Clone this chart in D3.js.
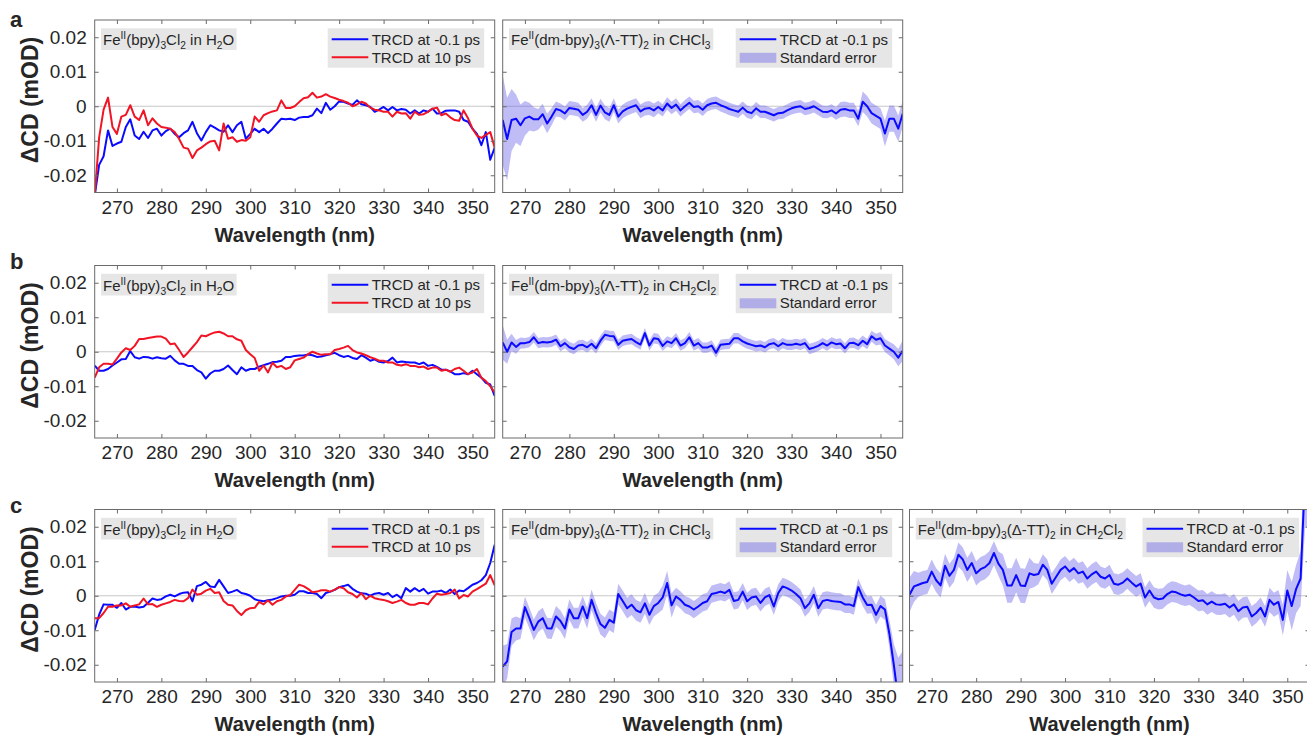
<!DOCTYPE html>
<html>
<head>
<meta charset="utf-8">
<script src="https://cdn.jsdelivr.net/npm/d3@7"></script>
<style>
  body { margin: 0; background: #fff; }
  text { font-family: "Liberation Sans", Arial, sans-serif; fill: #262626; }
</style>
</head>
<body>
<svg id="fig" width="1307" height="735"></svg>
<script>
// Wavelength grid (nm)
const wavelengths = d3.range(265, 356);

// ΔCD traces, in units of 1e-3 mOD, one value per wavelength (265–355 nm)
const a1Early = [
  -26, -17, -14.5, -7, -11.5, -10.8, -10.3, -6, -3.8, -8.5,
  -9.5, -7.4, -9.2, -7, -6.5, -8.5, -7.2, -6.5, -8, -9,
  -7.8, -7, -4.5, -7.8, -9.9, -7.5, -5.5, -6.2, -7, -7.4,
  -5.5, -7.5, -5.5, -4.5, -9.4, -8, -6.5, -7.5, -6.5, -7.8,
  -6.5, -5, -3.6, -3.8, -3.6, -4, -3.3, -3.1, -3.1, -2.6,
  -0.7, -2, 1, -1, 0, 1.4, 1.3, 0.8, 0.4, 1.7,
  0.6, 0.3, -0.2, -1.6, -1, -0.2, -1.2, -0.2, -1.2, -0.8,
  -1, -2.1, -1.2, -2.1, -1.2, -1.6, -0.7, -2.1, -2, -1.3,
  -1.2, -1.2, -1.6, -4, -4.5, -6.5, -8, -11.3, -7.5, -15.5,
  -12
];
const a1Late = [
  -26, -9, -1, 2.5, -6, -8, -3, -2.5, 0.3, -3,
  -4, -1.2, -5.5, -3.5, -5, -6, -6.2, -6.5, -7.5, -9.5,
  -12, -12.3, -15, -12.8, -12, -11, -10.2, -10, -12.8, -5,
  -9.4, -9, -10.3, -9.8, -10, -9, -3, -4.5, -2.6, -2,
  -1.5, -1.2, 1.7, -0.5, -0.5, 0, 1.2, 2.3, 2.6, 3.9,
  2.5, 2.8, 3.5, 2.8, 2.4, 1.9, 1.5, 1, 0, 0.5,
  1.3, 0.8, -0.4, -1, -1.2, -1.6, -1.6, -3, -1.6, -2.1,
  -2, -3.6, -1.6, -2.5, -2.3, -1.6, -0.7, -0.4, -2.6, -2.1,
  -3.2, -4, -4.2, -1.2, -3.5, -6.5, -8.5, -9.2, -8.3, -7.5,
  -12
];
const a2Early = [
  -4, -9.5, -4, -3.6, -5.5, -3.5, -3, -3.8, -3.8, -2.3,
  -5, -3, -0.8, -1.2, -2.1, -0.5, -0.7, -1, -2.5, -1.6,
  0.3, -2.5, 0.2, -1.8, -2.5, 0.3, -3, -1.5, -0.7, -0.2,
  0.3, -1.5, -0.7, -0.5, -1.2, -0.2, -1.2, 0.8, -0.5, 0.5,
  -1.2, 0, 1, -0.2, 0, -1, 0.3, 0.8, 1, 0.3,
  -0.2, -0.8, -1.2, -1.6, -0.4, -1.6, -2, -0.6, -1.6, -1.6,
  -2.1, -2.6, -2, -1.9, -1.2, -0.6, -0.2, 0, -0.8, -0.5,
  0, -0.8, -1.6, -1.7, -1.2, -2.1, -1, -0.8, -1.2, -1.2,
  -3.6, 1.3, 0, -2, -2.8, -3.6, -7.9, -3.6, -3.6, -6.5,
  -2.2
];
const a2Err = [
  13, 12, 9, 7, 6, 5, 4, 3.5, 3, 3,
  2.8, 2.5, 2.2, 2, 2, 2, 2, 2, 2, 2,
  2, 2, 2, 2, 2, 2, 2, 2, 2, 2,
  2, 2, 2, 2, 2, 1.8, 1.8, 1.8, 1.8, 1.8,
  1.8, 1.8, 1.8, 1.8, 1.8, 1.8, 1.8, 1.8, 1.8, 1.8,
  1.8, 1.8, 1.8, 1.8, 1.8, 1.8, 1.8, 1.8, 1.8, 1.8,
  1.8, 1.8, 1.8, 1.8, 1.8, 1.8, 1.8, 1.8, 1.8, 1.8,
  1.8, 1.8, 1.8, 1.8, 1.8, 1.8, 2.2, 2.2, 2.2, 2.2,
  2.2, 3, 3, 3, 3, 3, 3.8, 3.8, 3.8, 3.8,
  3.8
];
const b1Early = [
  -4, -5.5, -5.5, -5, -4, -3.1, -2.2, -2.1, 0.2, -1.6,
  -2, -1.5, -1.6, -2, -1.6, -1.9, -2, -1.2, -2.5, -3.5,
  -3.5, -4.1, -4.1, -5.3, -6, -7.8, -6.3, -5.5, -5.5, -5,
  -4, -5.3, -6.5, -4.5, -5.5, -5, -5, -4.3, -3.9, -3.5,
  -3, -2.9, -2.6, -1.5, -1.5, -1.2, -1.1, -1.1, -0.8, -1,
  -1.5, -1.4, -1, -0.7, -0.3, -1, -1.5, -1.2, -1.8, -2.1,
  -1, -1.7, -2.6, -2.2, -2.9, -3.1, -2.7, -1.7, -3.1, -2.8,
  -3, -3.1, -3.1, -3.6, -3.1, -4.1, -3.8, -4.4, -5.2, -5.2,
  -5.7, -6.5, -6.5, -6.2, -6.5, -5.5, -6.5, -7.5, -9, -9.5,
  -12.8
];
const b1Late = [
  -7.5, -4.5, -3.5, -3.5, -3.7, -2, -0.2, 1, 0.5, 1.7,
  3.7, 3.7, 4, 4.2, 4.4, 4.4, 3.8, 2.2, 2.4, 0.5,
  -1.5, -0.2, 1.3, 2.8, 4.7, 4.5, 5.1, 5.6, 5.8, 5.3,
  4.5, 4.5, 3.6, 3.2, 0.5, -0.7, -1.8, -5.5, -4, -6,
  -3.2, -4.5, -4.1, -5, -4.5, -2.5, -2.1, -1.7, -0.7, 0,
  -0.5, -0.9, -0.7, -0.7, 0.5, 0.8, 1.2, 1.7, 0.5, -0.2,
  -0.5, -1, -1.6, -2, -2.6, -2.6, -3.1, -3.1, -3.8, -4,
  -3.6, -4.1, -4.1, -4.5, -4.3, -5, -4.6, -4.6, -5.5, -5.2,
  -5.8, -5, -4.6, -5.5, -6.5, -6, -5, -7.5, -8.5, -10,
  -11.8
];
const b2Early = [
  2.7, 0, 2.7, 1.4, 2.5, 2.5, 2.8, 4.2, 2.5, 2.8,
  2.7, 2.9, 3.5, 1.6, 2.5, 1.3, 0.8, 1.8, 2, 1.3,
  2.3, 1, 3.2, 4.9, 4.6, 4.5, 2, 3.2, 3.5, 3.7,
  2.8, 2.1, 5.4, 1.8, 3.9, 3.7, 1.7, 3, 2.5, 3.9,
  1.8, 2.5, 4.2, 1.8, 2.5, 1.2, 1.2, 1.8, -0.3, 2,
  2.2, 2.3, 3.9, 3.9, 3, 2.4, 2, 1.6, 1.8, 1.3,
  2.2, 2.5, 1.6, 2.5, 2, 2, 2.3, 2, 2.5, 0.8,
  1.2, 1.7, 2.5, 1.8, 2.7, 2.2, 2.4, 1, 2.5, 2.6,
  1.9, 3.2, 2.2, 4.5, 3.5, 3.9, 1.8, 0.9, 0, -1.7,
  0.3
];
const b2Err = [
  5, 3.5, 2.5, 2, 1.6, 1.5, 1.5, 1.5, 1.5, 1.5,
  1.5, 1.5, 1.5, 1.5, 1.5, 1.5, 1.5, 1.5, 1.5, 1.5,
  1.5, 1.5, 1.5, 1.5, 1.5, 1.5, 1.5, 1.5, 1.5, 1.5,
  1.5, 1.5, 1.5, 1.5, 1.5, 1.5, 1.5, 1.5, 1.5, 1.5,
  1.5, 1.5, 1.5, 1.5, 1.5, 1.5, 1.5, 1.5, 1.5, 1.5,
  1.5, 1.5, 1.5, 1.5, 1.5, 1.5, 1.5, 1.5, 1.5, 1.5,
  1.5, 1.5, 1.5, 1.5, 1.5, 1.5, 1.5, 1.5, 1.5, 1.5,
  1.5, 1.5, 1.5, 1.5, 1.5, 1.5, 1.5, 1.5, 1.5, 1.5,
  1.5, 1.5, 1.5, 1.6, 1.7, 1.8, 1.9, 2, 2.2, 2.5,
  3
];
const c1Early = [
  -9.9, -5.5, -2.5, -2.6, -2.6, -3.5, -2.1, -4, -3.2, -3.1,
  -3.4, -3.2, -2, -0.8, -1.2, -1, -0.2, 0.3, -0.2, 0.5,
  0.9, 1, -1.6, 2.8, 3.2, 4, 2.7, 2.5, 4.6, 2.7,
  0.8, 1.2, 1.7, 0.8, 0.5, 0, -1, -1.4, -1.6, -1.3,
  -1.1, -0.7, -0.2, 0, 0, 0.3, 1.3, 1.3, 0.8, 0.8,
  0.5, -0.7, 0.8, 1.2, 1.7, 2.5, 2.8, 3.2, 2, 1.2,
  0.7, 0.6, 0, 0.6, 0.8, 0.3, 0.8, -0.4, 0.3, -0.7,
  2.2, 1.2, 2.2, 1.3, 2, 0.6, 1.2, 1.2, 1.5, 0.8,
  1.8, 0.5, 1.5, 1.3, 2.2, 3.2, 3.7, 4.5, 6, 9.5,
  14.8
];
const c1Late = [
  -6.5, -6.5, -5, -3.2, -3.2, -2.8, -2.8, -2.2, -3.2, -2.8,
  -2.5, -0.8, -2.5, -2.4, -3.2, -2.6, -2.2, -1.8, -1.2, -1.5,
  -1.6, -0.7, 1.8, 0.3, 0.6, 1.5, 2, 0.8, 1, -1.5,
  -2.6, -2.8, -4.4, -5.6, -4.2, -3.6, -3.5, -1.8, -2.5, -1.3,
  -2.6, -1.6, -1.2, -0.2, 0.2, 1.7, 3.2, 2.8, 2, 1,
  1.2, 1.6, 1.6, 1.2, 1.8, 2.5, 2.2, 1, 0.5, -0.5,
  0.8, -1, 0, -0.7, -1, -1.2, -1.6, -2.1, -1.7, -1.2,
  -2.1, -2.6, -2.6, -2.1, -2.1, -2.5, -0.8, 0.6, 0.3, 0.5,
  0.8, 1.8, -0.8, 0.2, -0.2, 1.2, 1.9, 2.7, 3.5, 6,
  3
];
const c2Early = [
  -20.5, -19, -10.5, -9.5, -9.5, -3.3, -6.5, -9.9, -7.5, -6.5,
  -9.4, -9.5, -6, -7.3, -9.5, -4, -6.5, -6.5, -3.1, -6.5,
  -1.2, -5, -8.2, -9.3, -7, -7.8, 0.5, -1.5, -3.6, -2.6,
  -4.2, -4.8, -2.2, -5.5, -3, -2.1, -0.5, 3.7, -2.8, -0.2,
  -1.2, -2.6, -3.1, -4, -3.1, -2.1, -1.6, 0.5, 0.8, 1.2,
  0.8, 1.7, -1.5, -1.2, 1.2, -1.6, -0.5, -0.2, -2.1, -0.5,
  0.2, -3.1, 0.8, 2.7, 2.2, 1.5, 0.5, -0.7, -3.6, -2.2,
  0.3, -3.6, -1.5, -1.2, -1.5, -1.7, -1.8, -2.5, -2.5, -3,
  2.5, -0.5, -2.7, -2.6, -5.5, -3, -4, -11, -20, -30,
  -36
];
const c2Err = [
  6, 5, 4, 3.5, 3, 3, 3, 3, 3, 3,
  3, 3, 3, 3, 3, 3, 3, 3, 3, 3,
  3, 3, 3, 3, 3, 3, 3, 3, 3, 3,
  3, 3, 3, 3, 3, 3, 3.5, 3.5, 3.5, 2.5,
  2.5, 2.5, 2.5, 2.5, 2.5, 2.5, 2.5, 2.5, 2.5, 2.5,
  2.5, 2.5, 2.5, 2.5, 2.5, 2.5, 2.5, 2.5, 2.5, 2.5,
  2.5, 2.5, 2.5, 2.5, 2.5, 2.5, 2.5, 2.5, 2.5, 2.5,
  2.5, 2.5, 2.5, 2.5, 2.5, 2.5, 2.5, 2.5, 2.5, 2.5,
  2.5, 2.5, 2.5, 2.5, 2.8, 3, 3, 4, 6, 12,
  20
];
const c3Early = [
  0.3, 2.7, 3.2, 3.7, 4, 7, 4.5, 3, 8.7, 5.8,
  7.5, 11.9, 10.5, 7.5, 9.5, 6.5, 7.7, 8.3, 9.5, 12.4,
  9.3, 7.5, 3, 3, 6, 3, 2.8, 6.5, 6, 6.3,
  9, 7.5, 3.5, 5.5, 7.5, 8.5, 7, 8, 6.5, 7,
  5, 6.2, 7, 5.5, 5, 6, 3.5, 3.2, 3.8, 5,
  3.8, 2.7, 3.5, -0.5, 1.5, -0.5, -1, -0.8, 0.5, 1.2,
  1, 0.4, 0, 0.3, -0.5, -1.5, -1.3, -2.5, -1.7, -2.5,
  -2.6, -2.3, -3.4, -2.5, -4.5, -3.4, -3.2, -6, -5, -3.5,
  -6, -1.2, -2.6, -1.8, -7, 1.5, -3, 2, 5, 35,
  45
];
const c3Err = [
  5, 4.5, 3.5, 3.5, 3.5, 3.5, 3.5, 3.5, 3.5, 3.5,
  3.5, 3.5, 3.5, 3.5, 3.5, 3.5, 3.5, 3.5, 3.5, 3.5,
  3.5, 4.5, 5, 5, 5, 5, 5, 4.5, 3.5, 3,
  3, 3, 3, 3, 3, 3, 3, 3, 3, 3,
  3, 3, 3, 3, 3, 3, 3, 3, 3, 3,
  3, 3, 3, 3, 3, 3, 3, 3, 3, 3,
  3, 3, 3, 3, 3, 3, 3, 3, 3, 3,
  3, 3, 3, 3, 3, 3, 3, 3, 3, 3,
  3, 3.5, 3.5, 3.5, 4.5, 6, 7, 7, 8, 15,
  25
];

// Axis ticks
const xTicks = [270, 280, 290, 300, 310, 320, 330, 340, 350];
const yTicks = [-0.02, -0.01, 0, 0.01, 0.02];
const yTickLabels = ["-0.02", "-0.01", "0", "0.01", "0.02"];

// Panel titles (^{..} superscript, _{..} subscript)
const titleBpy = "Fe^{II}(bpy)_{3}Cl_{2} in H_{2}O";
const titleLamCHCl3 = "Fe^{II}(dm-bpy)_{3}(Λ-TT)_{2} in CHCl_{3}";
const titleLamCH2Cl2 = "Fe^{II}(dm-bpy)_{3}(Λ-TT)_{2} in CH_{2}Cl_{2}";
const titleDelCHCl3 = "Fe^{II}(dm-bpy)_{3}(Δ-TT)_{2} in CHCl_{3}";
const titleDelCH2Cl2 = "Fe^{II}(dm-bpy)_{3}(Δ-TT)_{2} in CH_{2}Cl_{2}";

const rowLabels = ["a", "b", "c"];
const labelEarly = "TRCD at -0.1 ps";
const labelLate = "TRCD at 10 ps";
const labelErr = "Standard error";

// ---------- drawing ----------
const BLUE = "#0a0aff", RED = "#f01424";
const BAND = "rgba(105, 95, 230, 0.42)";
const svg = d3.select("#fig");
const toVal = arr => arr.map(v => v / 1000);

const colX = [94.7, 502.7, 909.5];
const rowY = [20, 265.5, 509.5];
const W = 400, H = 172.5;

const panels = [
  { row: 0, col: 0, title: titleBpy, lines: [[a1Early, BLUE, labelEarly], [a1Late, RED, labelLate]] },
  { row: 0, col: 1, title: titleLamCHCl3, band: a2Err, lines: [[a2Early, BLUE, labelEarly]] },
  { row: 1, col: 0, title: titleBpy, lines: [[b1Early, BLUE, labelEarly], [b1Late, RED, labelLate]] },
  { row: 1, col: 1, title: titleLamCH2Cl2, band: b2Err, lines: [[b2Early, BLUE, labelEarly]] },
  { row: 2, col: 0, title: titleBpy, lines: [[c1Early, BLUE, labelEarly], [c1Late, RED, labelLate]] },
  { row: 2, col: 1, title: titleDelCHCl3, band: c2Err, lines: [[c2Early, BLUE, labelEarly]] },
  { row: 2, col: 2, title: titleDelCH2Cl2, band: c3Err, lines: [[c3Early, BLUE, labelEarly]] }
];

function richText(sel, markup, size) {
  const re = /\^\{([^}]*)\}|_\{([^}]*)\}|([^^_]+)/g;
  let m, shift = 0;
  while ((m = re.exec(markup)) !== null) {
    let txt, target, fs;
    if (m[1] !== undefined) { txt = m[1]; target = -6; fs = size * 0.68; }
    else if (m[2] !== undefined) { txt = m[2]; target = 4; fs = size * 0.68; }
    else { txt = m[3]; target = 0; fs = size; }
    sel.append("tspan").attr("dy", target - shift).attr("font-size", fs)
      .style("white-space", "pre").text(txt);
    shift = target;
  }
}

panels.forEach((p, i) => {
  const x0 = colX[p.col], y0 = rowY[p.row];
  const x = d3.scaleLinear().domain([265, 355]).range([x0, x0 + W]);
  const y = d3.scaleLinear().domain([-0.025, 0.025]).range([y0 + H, y0]);
  const g = svg.append("g");

  const clipId = "clip" + i;
  svg.append("clipPath").attr("id", clipId)
    .append("rect").attr("x", x0).attr("y", y0).attr("width", W).attr("height", H);

  // zero reference line
  g.append("line").attr("x1", x0).attr("x2", x0 + W)
    .attr("y1", y(0)).attr("y2", y(0))
    .attr("stroke", "#c8c8c8").attr("stroke-width", 1);

  const plot = g.append("g").attr("clip-path", `url(#${clipId})`);
  if (p.band) {
    const mean = toVal(p.lines[0][0]), err = toVal(p.band);
    const area = d3.area()
      .x((d, k) => x(wavelengths[k]))
      .y0((d, k) => y(mean[k] - err[k]))
      .y1((d, k) => y(mean[k] + err[k]));
    plot.append("path").datum(mean).attr("d", area).attr("fill", BAND);
  }
  p.lines.forEach(([vals, color]) => {
    const line = d3.line().x((d, k) => x(wavelengths[k])).y(d => y(d));
    plot.append("path").datum(toVal(vals)).attr("d", line)
      .attr("fill", "none").attr("stroke", color).attr("stroke-width", 2)
      .attr("stroke-linejoin", "round");
  });

  // axes: inward ticks on all four sides
  const tickLen = 4;
  const axB = d3.axisBottom(x).tickValues(xTicks).tickSizeInner(-tickLen).tickSizeOuter(0).tickPadding(8).tickFormat(d3.format("d"));
  const axT = d3.axisTop(x).tickValues(xTicks).tickSizeInner(-tickLen).tickSizeOuter(0).tickFormat("");
  const axL = d3.axisLeft(y).tickValues(yTicks).tickSizeInner(-tickLen).tickSizeOuter(0).tickPadding(8)
    .tickFormat((d, k) => p.col === 0 ? yTickLabels[k] : "");
  const axR = d3.axisRight(y).tickValues(yTicks).tickSizeInner(-tickLen).tickSizeOuter(0).tickFormat("");

  const axes = [
    [axB, `translate(0,${y0 + H})`], [axT, `translate(0,${y0})`],
    [axL, `translate(${x0},0)`], [axR, `translate(${x0 + W},0)`]
  ];
  axes.forEach(([ax, tr]) => {
    const a = g.append("g").attr("transform", tr).call(ax);
    a.select(".domain").remove();
    a.selectAll(".tick line").attr("stroke", "#6a6a6a");
    a.selectAll("text").attr("font-size", 19).attr("fill", "#262626")
      .attr("font-family", '"Liberation Sans", Arial, sans-serif');
  });
  g.append("rect").attr("x", x0).attr("y", y0).attr("width", W).attr("height", H)
    .attr("fill", "none").attr("stroke", "#6a6a6a").attr("stroke-width", 1);

  // axis titles
  g.append("text").attr("x", x0 + W / 2).attr("y", y0 + H + 49)
    .attr("text-anchor", "middle").attr("font-size", 20).attr("font-weight", "bold")
    .text("Wavelength (nm)");
  if (p.col === 0) {
    g.append("text")
      .attr("transform", `translate(${x0 - 57},${y0 + 80}) rotate(-90)`)
      .attr("text-anchor", "middle").attr("font-size", 23).attr("font-weight", "bold")
      .text("ΔCD (mOD)");
  }

  // sample title in a grey box
  const tg = g.append("g");
  const tbg = tg.append("rect").attr("fill", "#e6e6e6");
  const tt = tg.append("text").attr("x", x0 + 8.3).attr("y", y0 + 25).attr("font-size", 15);
  richText(tt, p.title, 15);
  const bb = tt.node().getBBox();
  tbg.attr("x", x0 + 6.3).attr("y", y0 + 8.3).attr("width", bb.width + 4.5).attr("height", 21.7);

  // legend
  const lg = g.append("g");
  lg.append("rect").attr("x", x0 + 233).attr("y", y0 + 8.3)
    .attr("width", 156.5).attr("height", 39.4).attr("fill", "#e6e6e6");
  const entries = p.band
    ? [[labelEarly, "line", BLUE], [labelErr, "patch", BAND]]
    : p.lines.map(l => [l[2], "line", l[1]]);
  entries.forEach(([label, kind, color], k) => {
    const cy = y0 + 19.3 + k * 18;
    if (kind === "line") {
      lg.append("line").attr("x1", x0 + 237).attr("x2", x0 + 273.6)
        .attr("y1", cy).attr("y2", cy).attr("stroke", color).attr("stroke-width", 2);
    } else {
      lg.append("rect").attr("x", x0 + 237).attr("y", cy - 4.5)
        .attr("width", 36.6).attr("height", 10).attr("fill", color);
    }
    lg.append("text").attr("x", x0 + 277).attr("y", cy).attr("dy", "0.35em")
      .attr("font-size", 15).text(label);
  });
});

// row letters
const rowLetterY = [26.5, 268.5, 512.5];
rowLabels.forEach((l, r) => {
  svg.append("text").attr("x", 10).attr("y", rowLetterY[r])
    .attr("font-size", 22).attr("font-weight", "bold").attr("fill", "#000").text(l);
});
</script>
</body>
</html>
